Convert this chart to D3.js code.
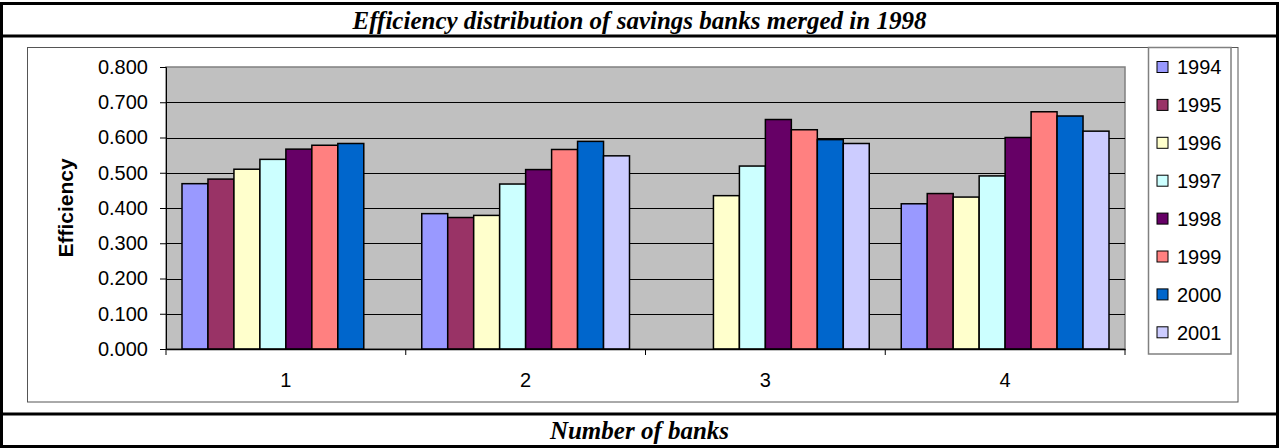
<!DOCTYPE html>
<head>
    <meta charset="utf-8">
    <script src="https://d3js.org/d3.v7.min.js"></script>
    <style>
        body {
            margin: 0;
            background: #fff;
        }
        .tick text {
            font-family: Arial, "Liberation Sans", sans-serif;
        }
    </style>
</head>
<body>
    <script>
        var categories = ["1", "2", "3", "4"];
        var years = ["1994", "1995", "1996", "1997", "1998", "1999", "2000", "2001"];
        // one array per year, values for banks 1..4 (null = no bar)
        var s1994 = [0.469, 0.384, null, 0.412];
        var s1995 = [0.482, 0.373, null, 0.441];
        var s1996 = [0.510, 0.379, 0.435, 0.431];
        var s1997 = [0.538, 0.468, 0.519, 0.491];
        var s1998 = [0.567, 0.509, 0.651, 0.600];
        var s1999 = [0.578, 0.566, 0.622, 0.673];
        var s2000 = [0.583, 0.589, 0.594, 0.661];
        var s2001 = [null, 0.548, 0.583, 0.618];
        var yTicks = [0, 0.1, 0.2, 0.3, 0.4, 0.5, 0.6, 0.7, 0.8];
        var colors = ["#9999FF", "#993366", "#FFFFCC", "#CCFFFF", "#660066", "#FF8080", "#0066CC", "#CCCCFF"];

        var series = [s1994, s1995, s1996, s1997, s1998, s1999, s2000, s2001];

        var W = 1279, H = 448;
        var svg = d3.select("body").append("svg")
            .attr("width", W)
            .attr("height", H);

        // outer table frame
        svg.append("rect")
            .attr("x", 1.5).attr("y", 3.5)
            .attr("width", W - 3).attr("height", H - 5)
            .attr("fill", "none").attr("stroke", "#000").attr("stroke-width", 3);
        [36, 414].forEach(function(y) {
            svg.append("line")
                .attr("x1", 0).attr("x2", W)
                .attr("y1", y).attr("y2", y)
                .attr("stroke", "#000").attr("stroke-width", 3);
        });

        svg.append("text")
            .attr("x", W / 2).attr("y", 29)
            .attr("text-anchor", "middle")
            .style("font-family", "'Liberation Serif', 'Times New Roman', serif")
            .style("font-weight", "bold").style("font-style", "italic")
            .style("font-size", "25px")
            .text("Efficiency distribution of savings banks merged in 1998");

        svg.append("text")
            .attr("x", W / 2).attr("y", 439)
            .attr("text-anchor", "middle")
            .style("font-family", "'Liberation Serif', 'Times New Roman', serif")
            .style("font-weight", "bold").style("font-style", "italic")
            .style("font-size", "25px")
            .text("Number of banks");

        // chart frame
        svg.append("rect")
            .attr("x", 27.5).attr("y", 47.5)
            .attr("width", 1238 - 27.5).attr("height", 402 - 47.5)
            .attr("fill", "#fff").attr("stroke", "#555").attr("stroke-width", 1);

        var plot = { left: 166, right: 1125, top: 67, bottom: 349 };

        var x = d3.scaleBand()
            .domain(categories)
            .range([plot.left, plot.right]);

        var bw = x.bandwidth();
        var xi = d3.scaleBand()
            .domain(years)
            .range([16, bw - 16]);

        var y = d3.scaleLinear()
            .domain([0, 0.8])
            .range([plot.bottom, plot.top]);

        svg.append("rect")
            .attr("x", plot.left).attr("y", plot.top)
            .attr("width", plot.right - plot.left).attr("height", plot.bottom - plot.top)
            .attr("fill", "#C0C0C0").attr("stroke", "#808080").attr("stroke-width", 1.5);

        // gridlines
        svg.append("g")
            .selectAll("line")
            .data(yTicks.slice(1, -1))
            .enter().append("line")
            .attr("x1", plot.left).attr("x2", plot.right)
            .attr("y1", function(d) { return Math.round(y(d)) + 0.5; })
            .attr("y2", function(d) { return Math.round(y(d)) + 0.5; })
            .attr("stroke", "#000").attr("stroke-width", 1);

        // bars
        var groups = svg.append("g")
            .selectAll("g")
            .data(categories)
            .enter().append("g")
            .attr("transform", function(d) { return "translate(" + x(d) + ",0)"; });

        groups.selectAll("rect")
            .data(function(c, ci) {
                return years.map(function(yr, i) {
                    return { year: yr, i: i, value: series[i][ci] };
                }).filter(function(d) { return d.value != null; });
            })
            .enter().append("rect")
            .attr("x", function(d) { return xi(d.year); })
            .attr("width", xi.bandwidth())
            .attr("y", function(d) { return y(d.value); })
            .attr("height", function(d) { return y(0) - y(d.value); })
            .attr("fill", function(d) { return colors[d.i]; })
            .attr("stroke", "#000").attr("stroke-width", 1.5);

        // y axis
        var yAxis = svg.append("g")
            .attr("transform", "translate(" + plot.left + ",0)")
            .call(d3.axisLeft(y).tickValues(yTicks).tickFormat(d3.format(".3f")).tickSize(6).tickPadding(12));
        yAxis.selectAll("text").style("font-size", "20px").attr("fill", "#000");
        yAxis.selectAll("line, path").attr("stroke", "#000");

        // x axis
        var xAxis = svg.append("g")
            .attr("transform", "translate(0," + plot.bottom + ")")
            .call(d3.axisBottom(x).tickSize(0).tickPadding(24));
        xAxis.select(".domain").attr("stroke", "#000").attr("stroke-width", 1.5);
        xAxis.selectAll("text").style("font-size", "20px").attr("fill", "#000");
        xAxis.selectAll(".sep")
            .data(d3.range(categories.length + 1))
            .enter().append("line")
            .attr("class", "sep")
            .attr("x1", function(i) { return plot.left + i * bw; })
            .attr("x2", function(i) { return plot.left + i * bw; })
            .attr("y1", 0).attr("y2", 6)
            .attr("stroke", "#000");

        svg.append("text")
            .attr("transform", "translate(73," + ((plot.top + plot.bottom) / 2) + ") rotate(-90)")
            .attr("text-anchor", "middle")
            .style("font-family", "Arial, 'Liberation Sans', sans-serif")
            .style("font-weight", "bold")
            .style("font-size", "21px")
            .text("Efficiency");

        // legend
        var lg = svg.append("g");
        lg.append("rect")
            .attr("x", 1148.5).attr("y", 47.5)
            .attr("width", 1231 - 1148.5).attr("height", 354 - 47.5)
            .attr("fill", "#fff").attr("stroke", "#808080").attr("stroke-width", 1.5);

        var items = lg.selectAll("g.item")
            .data(years)
            .enter().append("g")
            .attr("class", "item")
            .attr("transform", function(d, i) { return "translate(1157," + (67 + i * 37.9) + ")"; });
        items.append("rect")
            .attr("x", 0).attr("y", -5.5)
            .attr("width", 11).attr("height", 11)
            .attr("fill", function(d, i) { return colors[i]; })
            .attr("stroke", "#000").attr("stroke-width", 1);
        items.append("text")
            .attr("x", 20).attr("y", 0).attr("dy", "0.36em")
            .style("font-family", "Arial, 'Liberation Sans', sans-serif")
            .style("font-size", "20px")
            .text(function(d) { return d; });
    </script>
</body>
